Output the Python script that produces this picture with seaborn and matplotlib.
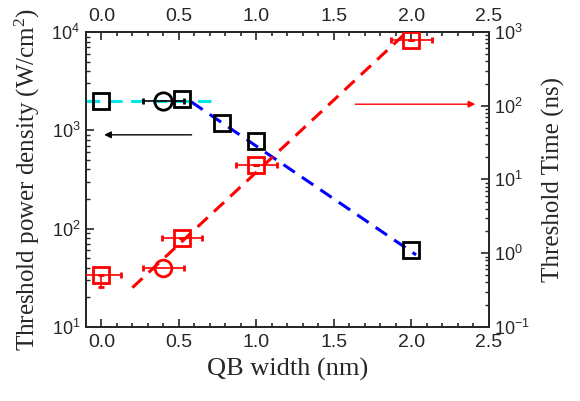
import matplotlib
matplotlib.use("Agg")
import matplotlib.pyplot as plt
import numpy as np
import pandas as pd
import seaborn as sns
from matplotlib.ticker import LogLocator, MultipleLocator, NullFormatter

# power density (left axis)
pd_sq_x = [0.0, 0.52, 0.78, 1.0, 2.0]
pd_sq_y = [2000, 2100, 1200, 780, 60]
pd_circ_x = [0.4]
pd_circ_y = [2000]
pd_circ_xerr = [0.13]

# threshold time (right axis)
t_sq_x = [0.0, 0.52, 1.0, 2.0]
t_sq_y = [0.51, 1.6, 15.5, 780]
t_sq_xerr = [0.13, 0.13, 0.13, 0.13]
t_sq_yerr_low = [0.16, 0.0, 0.0, 0.0]
t_circ_x = [0.4]
t_circ_y = [0.63]
t_circ_xerr = [0.13]

# guide lines
cyan_x = [-0.1, 0.71]
cyan_y = [2000, 2000]
blue_x = [0.58, 2.03]
blue_y = [1950, 54]
red_x = [0.2, 1.97]
red_y = [0.34, 1000]

x_ticks = [0.0, 0.5, 1.0, 1.5, 2.0, 2.5]

sns.set_style("ticks")
plt.rcParams["font.family"] = ["Liberation Sans", "DejaVu Sans"]
plt.rcParams["xtick.direction"] = "in"
plt.rcParams["ytick.direction"] = "in"

fig, ax = plt.subplots(figsize=(5.8, 4.01), dpi=100)
fig.subplots_adjust(left=0.148, right=0.843, top=0.92, bottom=0.185)
ax2 = ax.twinx()

dash = (0, (4.5, 2.8))
sns.lineplot(data=pd.DataFrame({"x": cyan_x, "y": cyan_y}), x="x", y="y", ax=ax,
             color="#00E5E5", lw=2.2, dashes=False, linestyle=dash, zorder=2)
sns.lineplot(data=pd.DataFrame({"x": blue_x, "y": blue_y}), x="x", y="y", ax=ax,
             color="#0000FF", lw=2.2, dashes=False, linestyle=dash, zorder=2)
sns.lineplot(data=pd.DataFrame({"x": red_x, "y": red_y}), x="x", y="y", ax=ax2,
             color="#FF0000", lw=2.2, dashes=False, linestyle=dash, zorder=2)

mk = dict(markerfacecolor="none", markeredgewidth=2, linestyle="none",
          capsize=2.5, elinewidth=1.2, capthick=1.2, zorder=4)
ax.errorbar(pd_sq_x, pd_sq_y, marker="s", markersize=11.5, color="black", **mk)
ax.errorbar(pd_circ_x, pd_circ_y, xerr=pd_circ_xerr, marker="o", markersize=12.5,
            color="black", **mk)
ax2.errorbar(t_sq_x, t_sq_y, xerr=t_sq_xerr,
             yerr=[t_sq_yerr_low, [0.0] * len(t_sq_y)], marker="s", markersize=11.5,
             color="red", **mk)
ax2.errorbar(t_circ_x, t_circ_y, xerr=t_circ_xerr, marker="o", markersize=12,
             color="red", **mk)

# arrows pointing to the matching axis
ax.annotate("", xy=(0.0, 900), xytext=(0.6, 900),
            arrowprops=dict(arrowstyle="-|>", color="black", lw=1, mutation_scale=10))
ax2.annotate("", xy=(2.43, 105), xytext=(1.62, 105),
             arrowprops=dict(arrowstyle="-|>", color="red", lw=1, mutation_scale=10))

ax.set_yscale("log")
ax2.set_yscale("log")
ax.set_xlim(-0.1, 2.5)
ax.set_ylim(10, 1e4)
ax2.set_ylim(0.1, 1e3)

ax.set_xticks(x_ticks)
ax.set_xticklabels([f"{v:.1f}" for v in x_ticks])
ax.xaxis.set_minor_locator(MultipleLocator(0.1))
for a in (ax, ax2):
    a.yaxis.set_major_locator(LogLocator(base=10))
    a.yaxis.set_minor_locator(LogLocator(base=10, subs=np.arange(2, 10)))
    a.yaxis.set_minor_formatter(NullFormatter())

ax.tick_params(axis="x", which="both", top=True, labeltop=True, labelsize=14, pad=5)
ax.tick_params(axis="x", which="major", length=6, width=1.2)
ax.tick_params(axis="x", which="minor", length=3, width=1.2)
ax.tick_params(axis="y", which="major", length=6, width=1.2, labelsize=13, pad=4)
ax.tick_params(axis="y", which="minor", length=3, width=1)
ax2.tick_params(axis="y", which="major", length=6, width=1.2, labelsize=13, pad=4)
ax2.tick_params(axis="y", which="minor", length=3, width=1)
for a in (ax, ax2):
    for s in a.spines.values():
        s.set_linewidth(1.3)

serif = ["Liberation Serif", "DejaVu Serif"]
ax.set_xlabel("QB width (nm)", fontsize=19, family=serif, labelpad=5)
ax.set_ylabel("Threshold power density (W/cm$\\mathregular{^2}$)", fontsize=18,
              family=serif, labelpad=7)
ax2.set_ylabel("Threshold Time (ns)", fontsize=18, family=serif, labelpad=8)

fig.savefig("out.png", dpi=100)
